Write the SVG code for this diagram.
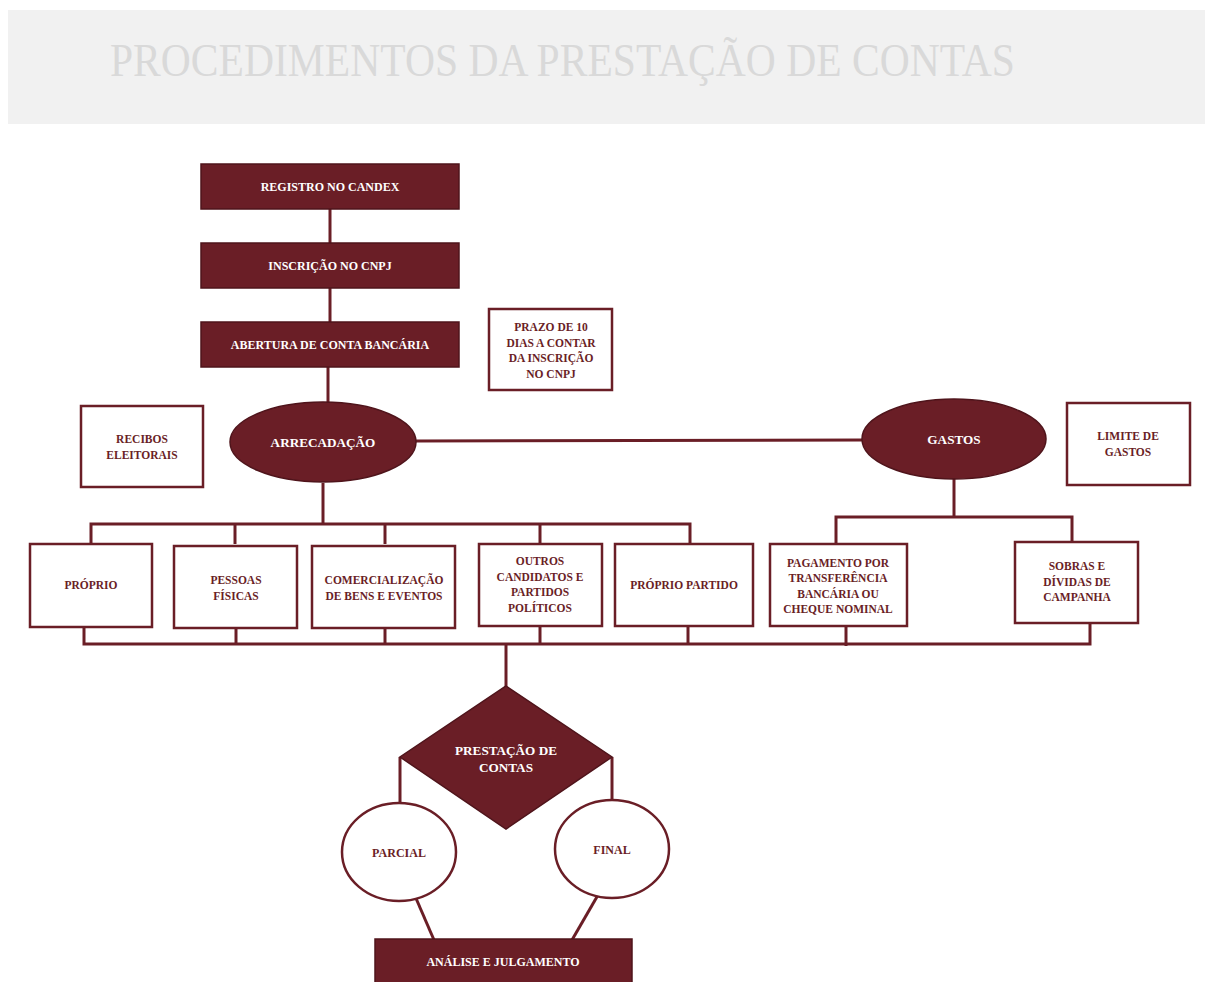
<svg xmlns="http://www.w3.org/2000/svg" width="1205" height="982" viewBox="0 0 1205 982">
<style>
.dark{fill:#6a1e26;stroke:#4f141b;stroke-width:1.5}
.box{fill:#ffffff;stroke:#6a1e26;stroke-width:2.5}
.ln{stroke:#6a1e26;stroke-width:3;fill:none}
.tw{font-family:"Liberation Serif",serif;font-weight:bold;font-size:12px;fill:#ffffff;text-anchor:middle}
.td{font-family:"Liberation Serif",serif;font-weight:bold;font-size:11.5px;fill:#6a1e26;text-anchor:middle}
.big{font-size:13.2px}
.mid{font-size:12px}
</style>
<rect x="0" y="0" width="1205" height="982" fill="#ffffff"/>
<rect x="8" y="10" width="1197" height="114" fill="#f1f1f1"/>
<text x="110" y="76" font-family="'Liberation Serif',serif" font-size="46" fill="#d9d9d9" textLength="905" lengthAdjust="spacingAndGlyphs">PROCEDIMENTOS DA PRESTAÇÃO DE CONTAS</text>

<g id="connectors">
<line class="ln" x1="330" y1="209" x2="330" y2="243"/>
<line class="ln" x1="330" y1="288" x2="330" y2="322"/>
<line class="ln" x1="328" y1="367" x2="328" y2="404"/>
<line class="ln" x1="416" y1="441" x2="862" y2="440"/>
<polyline class="ln" points="323,483 323,524"/>
<polyline class="ln" points="91,544 91,524 690,524 690,544"/>
<line class="ln" x1="235" y1="524" x2="235" y2="544"/>
<line class="ln" x1="385" y1="524" x2="385" y2="544"/>
<line class="ln" x1="540" y1="524" x2="540" y2="544"/>
<line class="ln" x1="954" y1="479" x2="954" y2="517"/>
<polyline class="ln" points="836,543 836,517 1072,517 1072,542"/>
<polyline class="ln" points="84,627 84,644 1090,644 1090,623"/>
<line class="ln" x1="236" y1="627" x2="236" y2="644"/>
<line class="ln" x1="385" y1="627" x2="385" y2="644"/>
<line class="ln" x1="540" y1="627" x2="540" y2="644"/>
<line class="ln" x1="688" y1="627" x2="688" y2="644"/>
<line class="ln" x1="846" y1="626" x2="846" y2="646"/>
<line class="ln" x1="506" y1="644" x2="506" y2="688"/>
<polyline class="ln" points="400,757 400,805"/>
<polyline class="ln" points="612,757 612,800"/>
<line class="ln" x1="415" y1="896" x2="434" y2="940"/>
<line class="ln" x1="598" y1="895" x2="572" y2="940"/>
</g>

<g id="registro"><rect class="dark" x="201" y="164" width="258" height="45"/><text class="tw" x="330" y="191">REGISTRO NO CANDEX</text></g>
<g id="inscricao"><rect class="dark" x="201" y="243" width="258" height="45"/><text class="tw" x="330" y="270">INSCRIÇÃO NO CNPJ</text></g>
<g id="abertura"><rect class="dark" x="201" y="322" width="258" height="45"/><text class="tw" x="330" y="349">ABERTURA DE CONTA BANCÁRIA</text></g>
<g id="prazo"><rect class="box" x="489" y="309" width="123" height="81"/>
<text class="td" x="551" y="331">PRAZO DE 10</text><text class="td" x="551" y="347">DIAS A CONTAR</text><text class="td" x="551" y="362">DA INSCRIÇÃO</text><text class="td" x="551" y="378">NO CNPJ</text></g>
<g id="recibos"><rect class="box" x="81" y="406" width="122" height="81"/>
<text class="td" x="142" y="443">RECIBOS</text><text class="td" x="142" y="459">ELEITORAIS</text></g>
<g id="arrecadacao"><ellipse class="dark" cx="323" cy="442" rx="93" ry="40"/><text class="tw big" x="323" y="447">ARRECADAÇÃO</text></g>
<g id="gastos"><ellipse class="dark" cx="954" cy="439" rx="92" ry="40"/><text class="tw big" x="954" y="444">GASTOS</text></g>
<g id="limite"><rect class="box" x="1067" y="403" width="123" height="82"/>
<text class="td" x="1128" y="440">LIMITE DE</text><text class="td" x="1128" y="456">GASTOS</text></g>

<g id="proprio"><rect class="box" x="30" y="544" width="122" height="83"/><text class="td" x="91" y="589">PRÓPRIO</text></g>
<g id="pessoas"><rect class="box" x="174" y="546" width="123" height="82"/>
<text class="td" x="236" y="584">PESSOAS</text><text class="td" x="236" y="600">FÍSICAS</text></g>
<g id="comercializacao"><rect class="box" x="312" y="546" width="143" height="82"/>
<text class="td" x="384" y="584">COMERCIALIZAÇÃO</text><text class="td" x="384" y="600">DE BENS E EVENTOS</text></g>
<g id="outros"><rect class="box" x="479" y="544" width="123" height="82"/>
<text class="td" x="540" y="565">OUTROS</text><text class="td" x="540" y="581">CANDIDATOS E</text><text class="td" x="540" y="596">PARTIDOS</text><text class="td" x="540" y="612">POLÍTICOS</text></g>
<g id="proprio-partido"><rect class="box" x="615" y="544" width="138" height="82"/><text class="td" x="684" y="589">PRÓPRIO PARTIDO</text></g>
<g id="pagamento"><rect class="box" x="770" y="544" width="137" height="82"/>
<text class="td" x="838" y="567">PAGAMENTO POR</text><text class="td" x="838" y="582">TRANSFERÊNCIA</text><text class="td" x="838" y="598">BANCÁRIA OU</text><text class="td" x="838" y="613">CHEQUE NOMINAL</text></g>
<g id="sobras"><rect class="box" x="1015" y="542" width="123" height="81"/>
<text class="td" x="1077" y="570">SOBRAS E</text><text class="td" x="1077" y="586">DÍVIDAS DE</text><text class="td" x="1077" y="601">CAMPANHA</text></g>

<g id="prestacao"><polygon class="dark" points="506,686 612,757 506,829 400,757"/>
<text class="tw big" x="506" y="755">PRESTAÇÃO DE</text><text class="tw big" x="506" y="772">CONTAS</text></g>
<g id="parcial"><ellipse class="box" cx="399" cy="852" rx="57" ry="49"/><text class="td mid" x="399" y="857">PARCIAL</text></g>
<g id="final"><ellipse class="box" cx="612" cy="849" rx="57" ry="49"/><text class="td mid" x="612" y="854">FINAL</text></g>
<g id="analise"><rect class="dark" x="375" y="939" width="257" height="45"/><text class="tw" x="503" y="966">ANÁLISE E JULGAMENTO</text></g>
</svg>
